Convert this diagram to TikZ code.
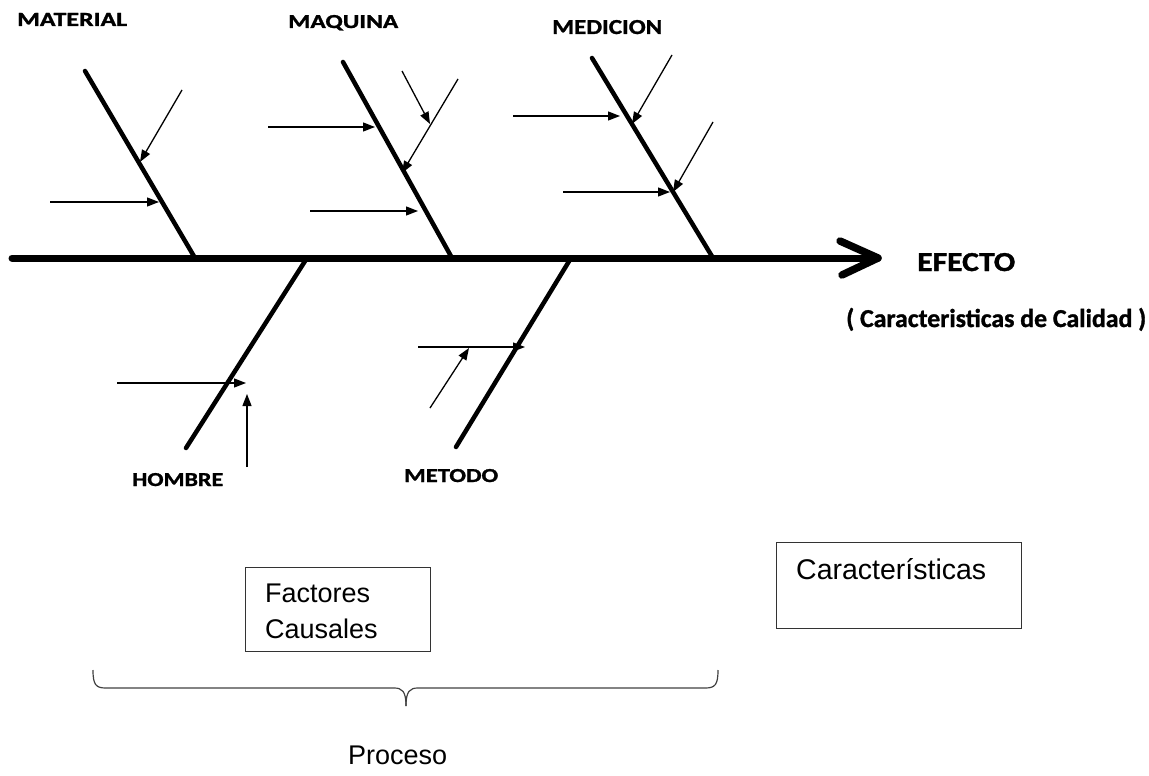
\documentclass[tikz,border=0pt]{standalone}
\usepackage{graphicx}
\usepackage{fontspec}
\usetikzlibrary{arrows.meta}
\newfontfamily\capsfont[BoldFeatures={FakeBold=1.2}]{Carlito}
\newfontfamily\plainfont{Liberation Sans}
% bold category label squeezed into a given width and cap height
\newcommand{\capslabel}[3]{\resizebox{#1pt}{#2pt}{\capsfont\bfseries #3}}

\begin{document}
\begin{tikzpicture}[x=1pt,y=-1pt,
  spine/.style={line width=7pt,line cap=round},
  headline/.style={line width=7.5pt,line cap=round,line join=round},
  bone/.style={line width=4.5pt,line cap=round},
  cause/.style={line width=1.3pt,-{Triangle[length=12pt,width=9pt]}},
  boxframe/.style={draw=black!80,line width=1.3pt,inner sep=0pt},
  caps/.style={inner sep=0pt,anchor=base west},
  plain/.style={inner sep=0pt,anchor=base west,font=\fontsize{27}{32}\selectfont\plainfont},
  bracket/.style={draw=black!75,line width=1.2pt}]

\path[use as bounding box] (0,0) rectangle (1149,776);

% ---- main spine with open head ----
\coordinate (tail) at (12,258);
\coordinate (head) at (878,258);
\coordinate (chevU) at (840,241);
\coordinate (chevL) at (842,275);
\draw[spine] (tail) -- (head);
\draw[headline] (chevU) -- (head) -- (chevL);

% ---- bones ----
\coordinate (matTop) at (85,71);   \coordinate (matFoot) at (195,258);
\coordinate (maqTop) at (343,62);  \coordinate (maqFoot) at (452,258);
\coordinate (medTop) at (592,58);  \coordinate (medFoot) at (713,258);
\coordinate (homFoot) at (307,258); \coordinate (homEnd) at (186,448);
\coordinate (metFoot) at (571,258); \coordinate (metEnd) at (456,447);
\draw[bone] (matTop) -- (matFoot);
\draw[bone] (maqTop) -- (maqFoot);
\draw[bone] (medTop) -- (medFoot);
\draw[bone] (homFoot) -- (homEnd);
\draw[bone] (metFoot) -- (metEnd);

% ---- causes: material ----
\coordinate (a1s) at (182,90);  \coordinate (a1e) at (140,162);
\coordinate (a2s) at (50,202);  \coordinate (a2e) at (159,202);
\draw[cause] (a1s) -- (a1e);
\draw[cause] (a2s) -- (a2e);

% ---- causes: maquina ----
\coordinate (b1s) at (268,127); \coordinate (b1e) at (375,127);
\coordinate (b2s) at (402,71);  \coordinate (b2e) at (430,124);
\coordinate (b3s) at (458,79);  \coordinate (b3e) at (402,173);
\coordinate (b4s) at (310,211); \coordinate (b4e) at (418,211);
\draw[cause] (b1s) -- (b1e);
\draw[cause] (b2s) -- (b2e);
\draw[cause] (b3s) -- (b3e);
\draw[cause] (b4s) -- (b4e);

% ---- causes: medicion ----
\coordinate (c1s) at (513,116); \coordinate (c1e) at (620,116);
\coordinate (c2s) at (672,55);  \coordinate (c2e) at (632,124);
\coordinate (c3s) at (563,192); \coordinate (c3e) at (670,192);
\coordinate (c4s) at (713,122); \coordinate (c4e) at (673,192);
\draw[cause] (c1s) -- (c1e);
\draw[cause] (c2s) -- (c2e);
\draw[cause] (c3s) -- (c3e);
\draw[cause] (c4s) -- (c4e);

% ---- causes: hombre ----
\coordinate (d1s) at (117,383); \coordinate (d1e) at (246,383);
\coordinate (d2s) at (247,467); \coordinate (d2e) at (247,394);
\draw[cause] (d1s) -- (d1e);
\draw[cause] (d2s) -- (d2e);

% ---- causes: metodo ----
\coordinate (e1s) at (418,347); \coordinate (e1e) at (525,347);
\coordinate (e2s) at (430,408); \coordinate (e2e) at (469,348);
\draw[cause] (e1s) -- (e1e);
\draw[cause] (e2s) -- (e2e);

% ---- category labels ----
\node[caps] (lmat) at (17,26)  {\capslabel{110}{13}{MATERIAL}};
\node[caps] (lmaq) at (288,28) {\capslabel{110}{13}{MAQUINA}};
\node[caps] (lmed) at (552,34) {\capslabel{110}{14}{MEDICION}};
\node[caps] (lhom) at (132,486) {\capslabel{91}{13}{HOMBRE}};
\node[caps] (lmet) at (404,482) {\capslabel{94}{13}{METODO}};
\node[caps] (lefe) at (917,271) {\capslabel{98}{18}{EFECTO}};
\node[caps] (lcal) at (846,327) {\resizebox{300pt}{!}{\capsfont\bfseries ( Caracteristicas de Calidad )}};

% ---- boxes ----
\node[boxframe,anchor=north west,minimum width=185pt,minimum height=84pt] (fbox) at (245,567) {};
\node[plain] (ffac) at (265,602) {Factores};
\node[plain] (fcau) at (265,638) {Causales};

\node[boxframe,anchor=north west,minimum width=245pt,minimum height=86pt] (cbox) at (776,542) {};
\node[plain,font=\fontsize{28.5}{34}\selectfont\plainfont] (ctxt) at (796,579) {Características};

% ---- brace over the process ----
\coordinate (brL) at (93,670);
\coordinate (brM) at (406,706);
\coordinate (brR) at (718,670);
\draw[bracket] (brL) .. controls (93,685) and (96,688) .. (106,688)
  -- (394,688) .. controls (402,688) and (406,691) .. (brM);
\draw[bracket] (brM) .. controls (406,691) and (410,688) .. (418,688)
  -- (705,688) .. controls (715,688) and (718,685) .. (brR);
\node[plain] (proc) at (348,764) {Proceso};

\end{tikzpicture}
\end{document}
